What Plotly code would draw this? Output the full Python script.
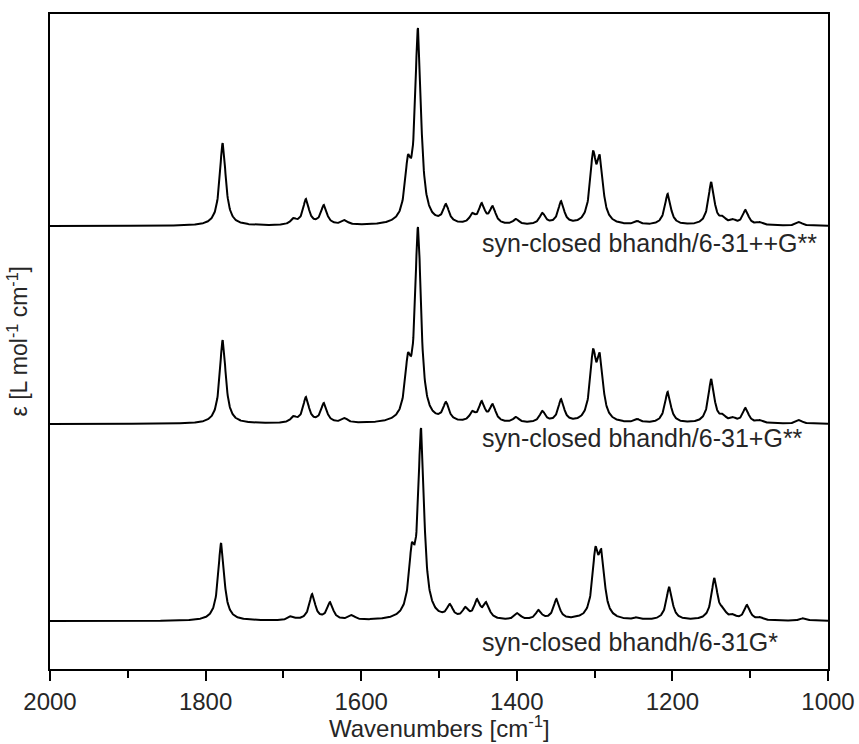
import numpy as np
import plotly.graph_objects as go

# ---- data (peak centre in cm^-1, peak height in arbitrary units) ----
pos_ppG = [1778, 1687, 1671, 1648, 1621, 1540, 1527, 1491, 1457, 1445, 1431, 1401,
           1367, 1343, 1322, 1302, 1293, 1245, 1206, 1150, 1135, 1122, 1106, 1087, 1037]
hgt_ppG = [83, 8, 27, 21, 6, 71, 198, 22, 13, 23, 20, 7,
           13, 25, 6, 75, 71, 5, 32, 44, 10, 7, 16, 4, 4]

pos_pG = [1778, 1687, 1671, 1648, 1621, 1540, 1527, 1491, 1457, 1445, 1431, 1401,
          1367, 1343, 1322, 1302, 1293, 1245, 1206, 1150, 1135, 1122, 1106, 1087, 1037]
hgt_pG = [84, 8, 27, 21, 6, 71, 197, 22, 13, 23, 20, 7,
          13, 25, 6, 75, 71, 5, 32, 45, 10, 7, 16, 4, 4]

pos_G = [1780, 1690, 1663, 1640, 1612, 1535, 1523, 1486, 1466, 1451, 1439, 1399,
         1372, 1349, 1322, 1299, 1291, 1245, 1204, 1146, 1135, 1122, 1104, 1087, 1031]
hgt_G = [78, 5, 27, 19, 6, 78, 193, 17, 14, 22, 19, 8,
         11, 22, 5, 74, 71, 4, 34, 43, 14, 7, 16, 4, 3]

labels = ["syn-closed bhandh/6-31++G**", "syn-closed bhandh/6-31+G**", "syn-closed bhandh/6-31G*"]
offsets = [443, 245, 48]
label_y = [426, 231, 27]
label_x = 1447

hwhm = 4.6
x_ticks = [2000, 1800, 1600, 1400, 1200, 1000]


def spectrum(pos, hgt, grid):
    pos = np.asarray(pos, float)
    hgt = np.asarray(hgt, float)
    lor = lambda d: 1.0 / (1.0 + (d / hwhm) ** 2)
    A = lor(pos[:, None] - pos[None, :])
    amps = np.linalg.solve(A, hgt)
    amps = np.clip(amps, 0, None)
    return (amps[None, :] * lor(grid[:, None] - pos[None, :])).sum(axis=1)


grid = np.arange(1000.0, 2000.01, 0.5)

fig = go.Figure()
for (p, h), off in zip([(pos_ppG, hgt_ppG), (pos_pG, hgt_pG), (pos_G, hgt_G)], offsets):
    fig.add_trace(go.Scatter(x=grid, y=spectrum(p, h, grid) + off, mode="lines",
                             line=dict(color="black", width=2), showlegend=False,
                             hoverinfo="skip"))

txtcol = "#262626"
for txt, yy in zip(labels, label_y):
    fig.add_annotation(x=label_x, y=yy, text=txt, showarrow=False, xanchor="left",
                       yanchor="middle", font=dict(size=25, color=txtcol))

# axis titles as annotations for exact placement
fig.add_annotation(x=0.5, y=-0.1145, xref="paper", yref="paper", xanchor="center",
                   yanchor="bottom", showarrow=False,
                   text="Wavenumbers [cm<sup>-1</sup>]", font=dict(size=24, color=txtcol))
fig.add_annotation(x=-0.0424, y=0.5, xref="paper", yref="paper", xanchor="center",
                   yanchor="middle", showarrow=False, textangle=-90,
                   text="ε [L mol<sup>-1</sup> cm<sup>-1</sup>]", font=dict(size=23, color=txtcol))

font = "Liberation Sans, Arial, Helvetica, sans-serif"
fig.update_layout(
    width=859, height=744,
    margin=dict(l=50, r=31, t=14, b=75),
    plot_bgcolor="white", paper_bgcolor="white",
    font=dict(family=font, size=24, color=txtcol),
)
fig.update_xaxes(
    range=[2000, 1000], tickvals=x_ticks, ticks="outside", ticklen=10, tickwidth=2,
    tickcolor="black", showline=True, linecolor="black", linewidth=2, mirror=True,
    showgrid=False, zeroline=False, automargin=False,
    minor=dict(dtick=100, ticks="outside", ticklen=7, tickwidth=2, tickcolor="black", showgrid=False),
    tickfont=dict(size=24, color=txtcol),
)
fig.update_yaxes(
    range=[0, 655], showticklabels=False, ticks="", showline=True, linecolor="black",
    linewidth=2, mirror=True, showgrid=False, zeroline=False, automargin=False,
)

fig.write_html(
    "out.html",
    config={"displayModeBar": False},
    post_script="document.body.style.margin='0';document.body.style.overflow='hidden';",
)
